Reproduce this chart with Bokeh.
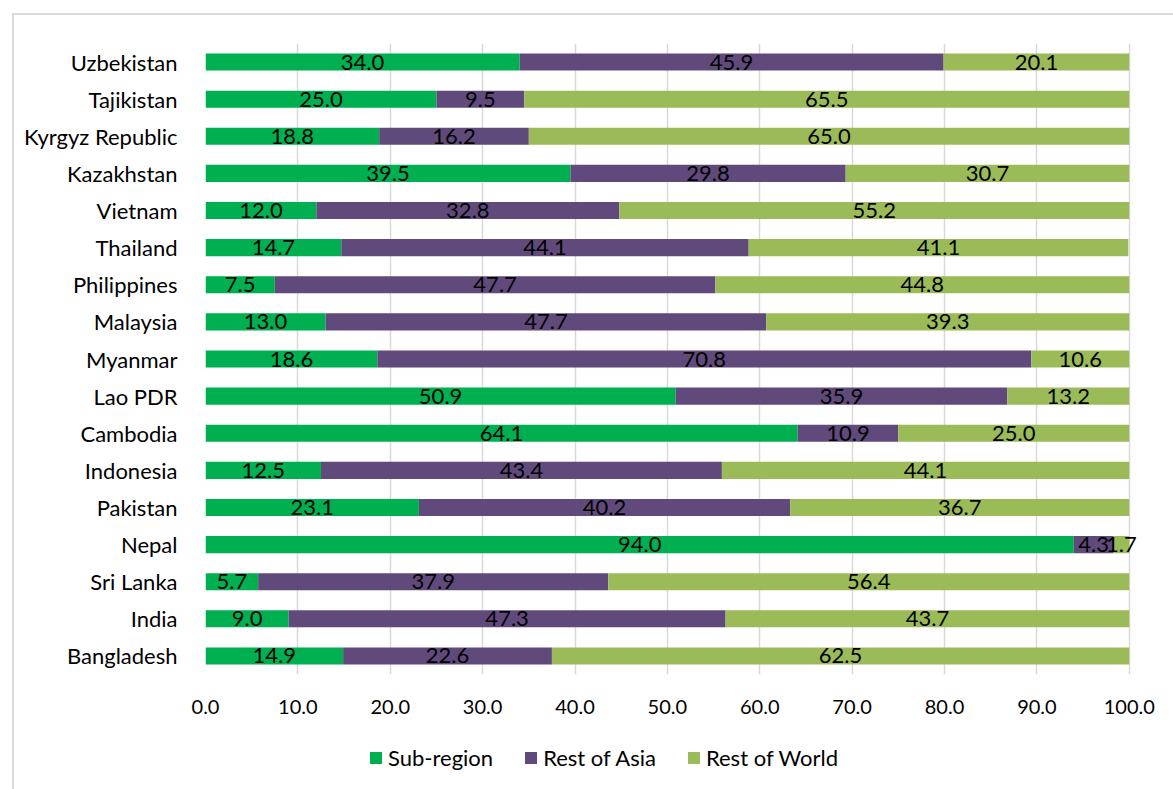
from bokeh.plotting import figure
from bokeh.layouts import column
from bokeh.models import Range1d, FactorRange, ColumnDataSource, Legend, LegendItem, FixedTicker, CustomJSTickFormatter
from bokeh.core.properties import value
from bokeh.embed import file_html
from bokeh.resources import INLINE

countries = ["Bangladesh", "India", "Sri Lanka", "Nepal", "Pakistan", "Indonesia", "Cambodia",
             "Lao PDR", "Myanmar", "Malaysia", "Philippines", "Thailand", "Vietnam",
             "Kazakhstan", "Kyrgyz Republic", "Tajikistan", "Uzbekistan"]
sub_region = [14.9, 9.0, 5.7, 94.0, 23.1, 12.5, 64.1, 50.9, 18.6, 13.0, 7.5, 14.7, 12.0, 39.5, 18.8, 25.0, 34.0]
rest_of_asia = [22.6, 47.3, 37.9, 4.3, 40.2, 43.4, 10.9, 35.9, 70.8, 47.7, 47.7, 44.1, 32.8, 29.8, 16.2, 9.5, 45.9]
rest_of_world = [62.5, 43.7, 56.4, 1.7, 36.7, 44.1, 25.0, 13.2, 10.6, 39.3, 44.8, 41.1, 55.2, 30.7, 65.0, 65.5, 20.1]
series_names = ["Sub-region", "Rest of Asia", "Rest of World"]
colors = ["#00B050", "#604A7B", "#9BBB59"]
x_ticks = [0, 10, 20, 30, 40, 50, 60, 70, 80, 90, 100]

FONT = "Lato"
FS_TICK = "20px"
FS_DATA = "22px"
FS_TXT = "22px"

src = ColumnDataSource(dict(country=countries, s1=sub_region, s2=rest_of_asia, s3=rest_of_world))

p = figure(width=1159, height=709, y_range=FactorRange(*countries, range_padding=0),
           x_range=Range1d(0, 101), output_backend="svg", toolbar_location=None,
           min_border_left=191, min_border_right=35, min_border_top=28, min_border_bottom=50)
p.outline_line_color = None

renderers = p.hbar_stack(["s1", "s2", "s3"], y="country", height=0.46, color=colors,
                         source=src, line_color=None)

# data labels centred in each segment
for i, vals in enumerate([sub_region, rest_of_asia, rest_of_world]):
    starts = [0.0] * len(countries)
    for prev in [sub_region, rest_of_asia][:i]:
        starts = [a + b for a, b in zip(starts, prev)]
    xs = [s + v / 2 for s, v in zip(starts, vals)]
    lab = ["%.1f" % v for v in vals]
    p.text(x=xs, y=countries, text=lab, text_align="center", text_baseline="middle",
           text_font=value(FONT), text_font_size=FS_DATA, text_color="#000000")

p.xaxis.ticker = FixedTicker(ticks=x_ticks)
p.xaxis.formatter = CustomJSTickFormatter(code="return tick.toFixed(1);")
p.xgrid.ticker = FixedTicker(ticks=x_ticks)
p.xgrid.grid_line_color = "#D9D9D9"
p.xgrid.grid_line_width = 1.5
p.ygrid.grid_line_color = None

for ax in (p.xaxis[0], p.yaxis[0]):
    ax.axis_line_color = None
    ax.major_tick_line_color = None
    ax.minor_tick_line_color = None
    ax.major_label_text_font = FONT
    ax.major_label_text_color = "#000000"
p.xaxis.major_label_text_font_size = FS_TICK
p.yaxis.major_label_text_font_size = FS_TXT
p.xaxis.major_label_standoff = 19
p.yaxis.major_label_standoff = 22

# legend strip: proxy bars use factors that this strip's range does not hold, so they are not drawn
lg = figure(width=1159, height=65, output_backend="svg", toolbar_location=None,
            x_range=Range1d(0, 100), y_range=FactorRange("legend"),
            min_border_left=0, min_border_right=0, min_border_top=0, min_border_bottom=0)
lg.axis.visible = False
lg.grid.visible = False
lg.outline_line_color = None
proxies = lg.hbar_stack(["s1", "s2", "s3"], y="country", height=0.46, color=colors,
                        source=src, line_color=None)
legend = Legend(items=[LegendItem(label=n, renderers=[r]) for n, r in zip(series_names, proxies)],
                orientation="horizontal", location=(163, 18), border_line_color=None,
                label_text_font=FONT, label_text_font_size=FS_TXT, label_text_color="#000000",
                glyph_width=15, glyph_height=15, spacing=30, label_standoff=5,
                padding=2, margin=0, background_fill_alpha=0)
lg.add_layout(legend, "center")

layout = column(p, lg, spacing=0)
layout.margin = (13, 0, 0, 12)
layout.styles = {"border-left": "2px solid #D9D9D9", "border-top": "2px solid #D9D9D9"}

open("out.html", "w").write(file_html(layout, INLINE))
